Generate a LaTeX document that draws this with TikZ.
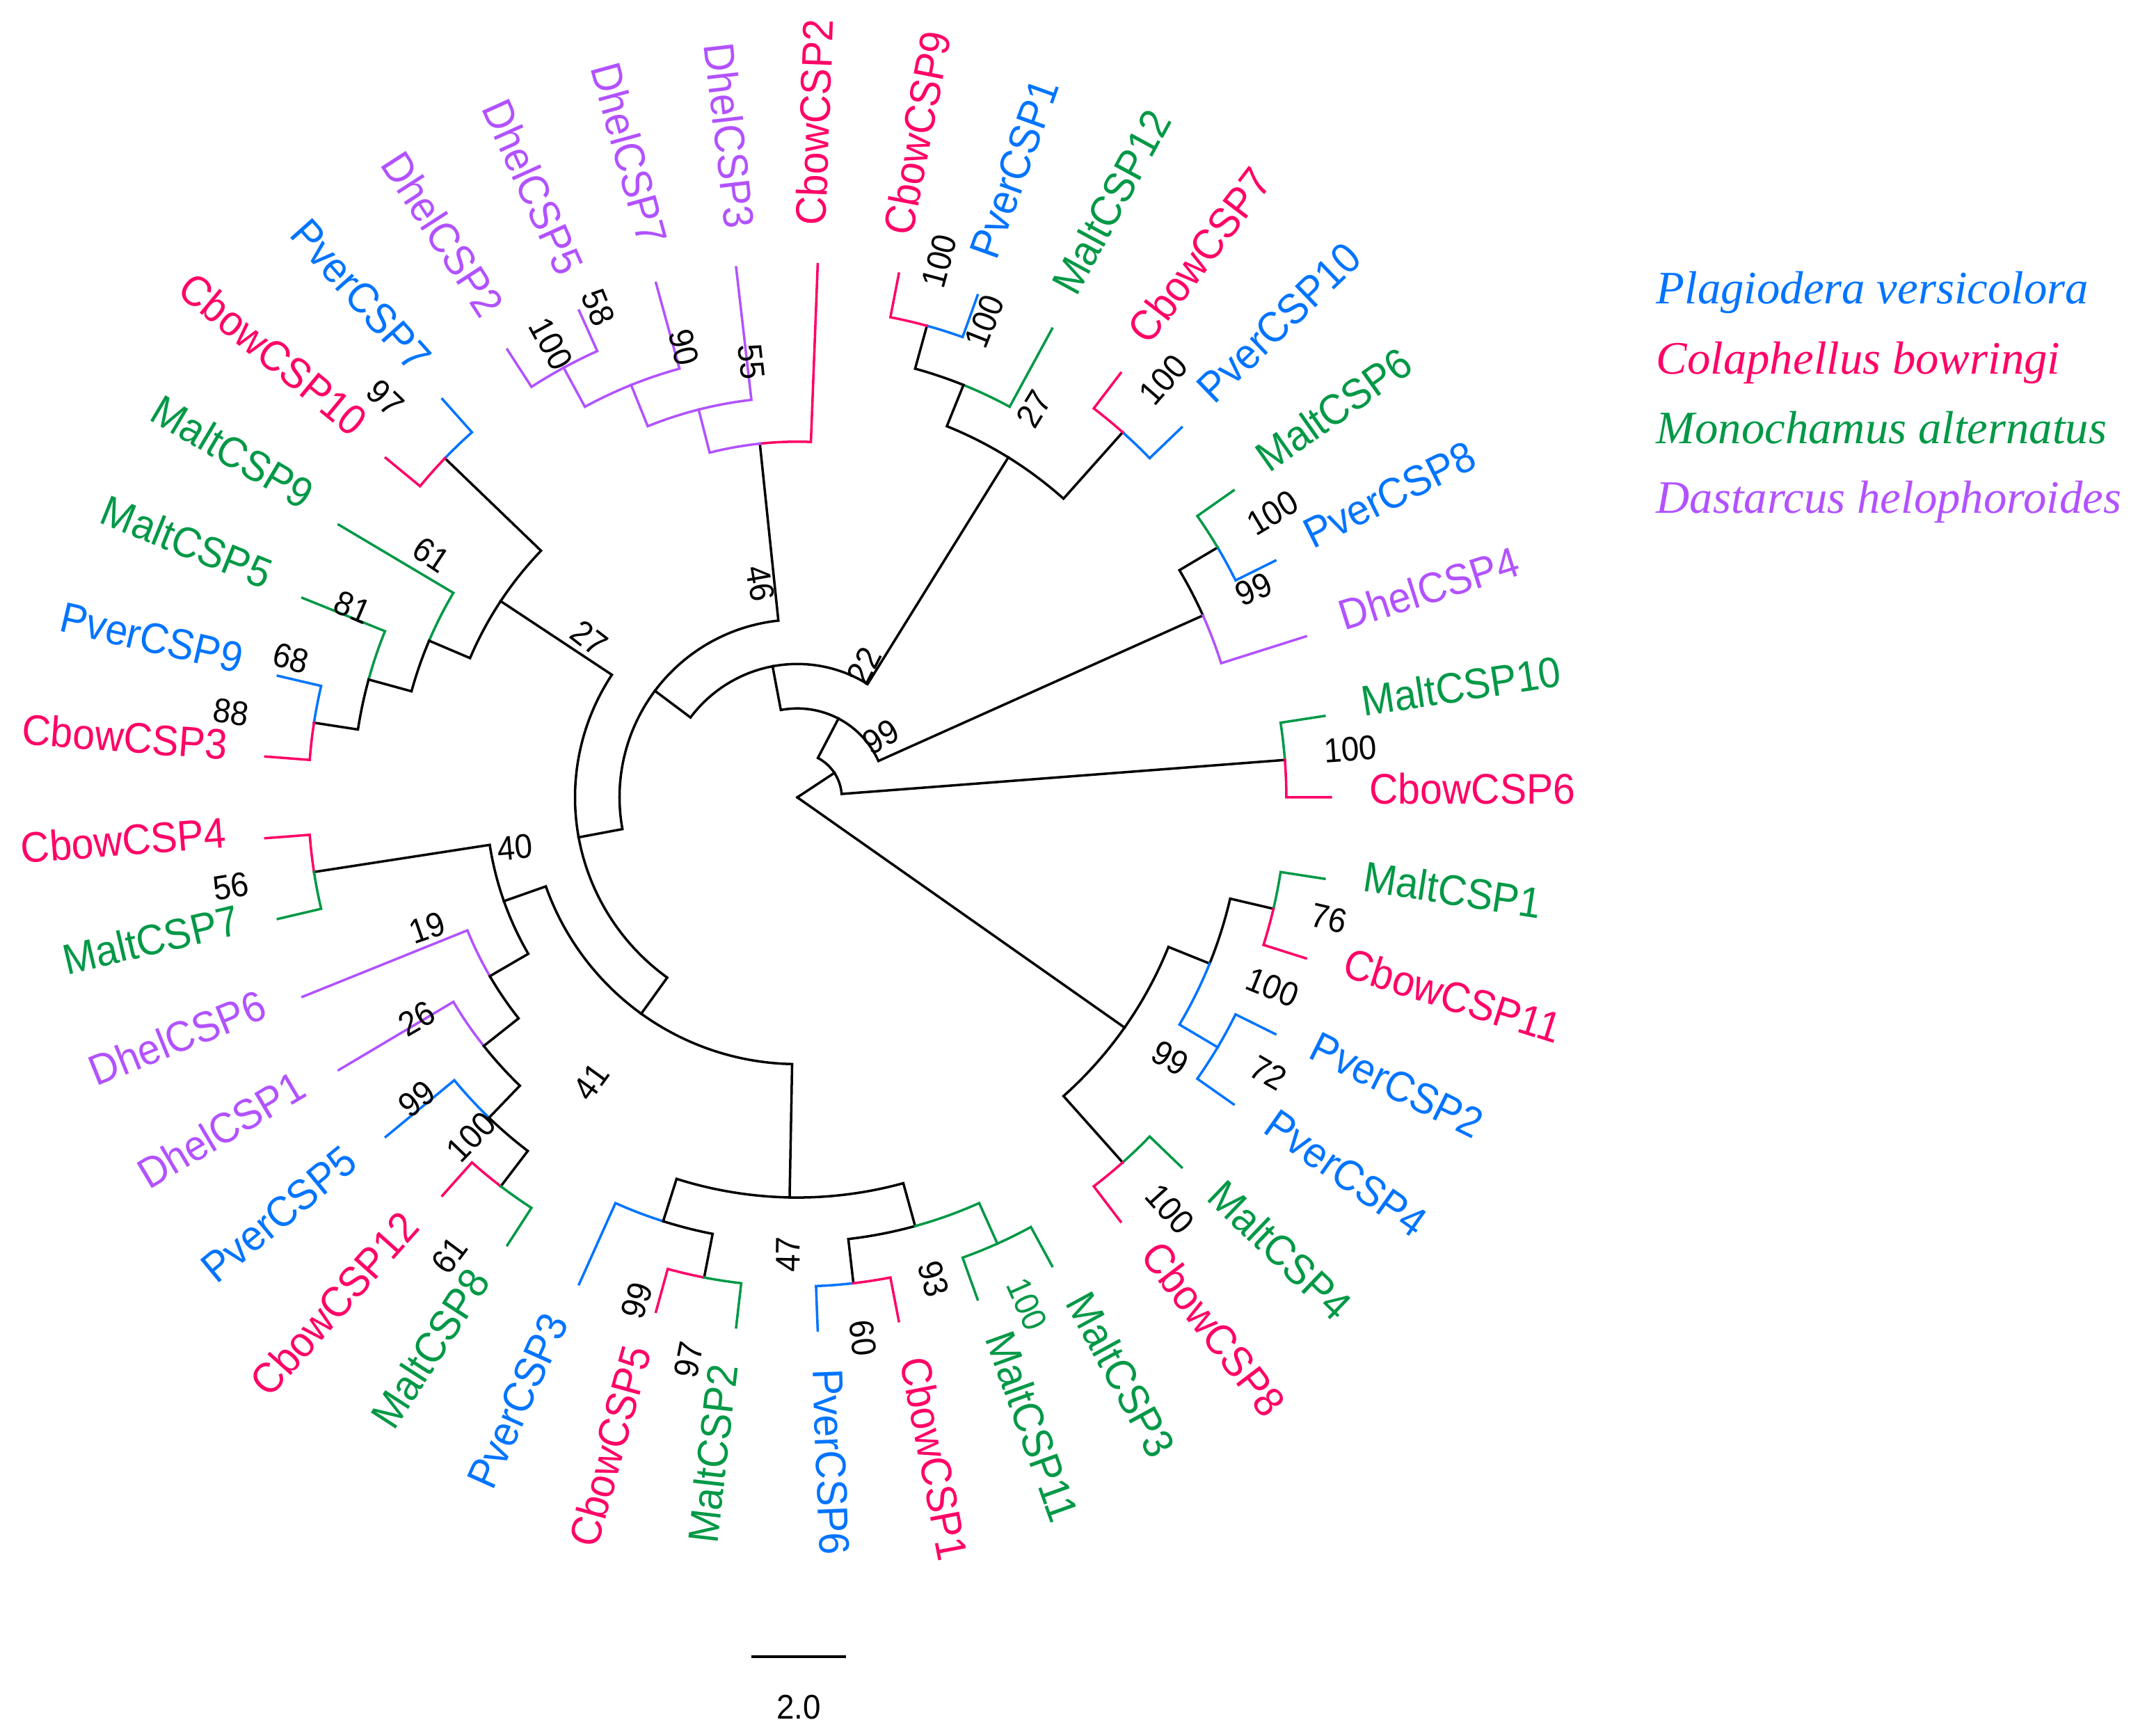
\documentclass[tikz,border=0pt]{standalone}
\usepackage{fontspec}
\setmainfont{Liberation Sans}
\newfontfamily\leaffont[FakeStretch=0.93]{Liberation Sans}
\newfontfamily\bootfont[FakeStretch=0.93]{Liberation Sans}
\newfontfamily\legfont{Liberation Serif}
\usetikzlibrary{calc}
\definecolor{pver}{RGB}{0,116,255}
\definecolor{cbow}{RGB}{255,0,102}
\definecolor{malt}{RGB}{0,152,70}
\definecolor{dhel}{RGB}{178,82,255}
\tikzset{
  branch/.style={line width=1pt,line cap=rect},
  leaf/.style={font=\leaffont\fontsize{17.5}{20}\selectfont,inner sep=0pt},
  boot/.style={font=\bootfont\fontsize{14}{16}\selectfont,inner sep=0pt},
  legend/.style={font=\legfont\itshape\fontsize{19}{22}\selectfont,anchor=base west,inner sep=0pt}
}
\def\rr{0.639}

\begin{document}
\begin{tikzpicture}
                \useasboundingbox (-11.46,-13.49) rectangle (19.40,11.46);
                \coordinate (root) at (0,0);
                \foreach \nd/\ang/\lev in {nA/324.88/9,nU/338.05/10,nW/346.83/11,nX/329.27/11,nV/311.71/11,
                    nB/33.40/1,nBx/4.39/11,nBy/62.42/2,nDd/24.15/10,nDm/30.73/11,nC/100.68/3,nT/58.17/9,
                    nZ/48.29/11,nY/68.05/10,nYp/74.63/11,nD/143.20/4,nDh/96.04/8,nDh3/104.27/9,nDh7/111.95/10,
                    nDh5/118.54/11,nE/190.36/5,n27/146.52/8,n97/136.10/11,n61/156.95/9,n81/164.63/10,
                    n88/171.22/11,nF/234.19/6,nG/199.48/7,n56/188.78/11,nI/210.18/8,nJ/218.41/9,nK/226.10/10,
                    nL/232.68/11,nH/268.90/9,nM/252.44/10,nQ/259.02/11,nP/285.37/10,nR/276.59/11,nS/294.15/11}{
                    \coordinate (\nd) at (\ang:\lev*\rr);
                }
                \foreach \i/\nm/\col in {0/CbowCSP6/cbow,1/MaltCSP10/malt,2/DhelCSP4/dhel,3/PverCSP8/pver,
                    4/MaltCSP6/malt,5/PverCSP10/pver,6/CbowCSP7/cbow,7/MaltCSP12/malt,8/PverCSP1/pver,
                    9/CbowCSP9/cbow,10/CbowCSP2/cbow,31/PverCSP6/pver,32/CbowCSP1/cbow,33/MaltCSP11/malt,
                    34/MaltCSP3/malt,35/CbowCSP8/cbow,36/MaltCSP4/malt,37/PverCSP4/pver,38/PverCSP2/pver,
                    39/CbowCSP11/cbow,40/MaltCSP1/malt}{
                    \pgfmathsetmacro\ang{\i*360/41}
                    \coordinate (t\i) at (\ang:12*\rr);
                    \node[leaf,text=\col,anchor=mid west,rotate=\ang] (l\i) at (\ang:12*\rr+0.55) {\nm};
                }
                \foreach \i/\nm/\col in {11/DhelCSP3/dhel,12/DhelCSP7/dhel,13/DhelCSP5/dhel,14/DhelCSP2/dhel,
                    15/PverCSP7/pver,16/CbowCSP10/cbow,17/MaltCSP9/malt,18/MaltCSP5/malt,19/PverCSP9/pver,
                    20/CbowCSP3/cbow,21/CbowCSP4/cbow,22/MaltCSP7/malt,23/DhelCSP6/dhel,24/DhelCSP1/dhel,
                    25/PverCSP5/pver,26/CbowCSP12/cbow,27/MaltCSP8/malt,28/PverCSP3/pver,29/CbowCSP5/cbow,
                    30/MaltCSP2/malt}{
                    \pgfmathsetmacro\ang{\i*360/41}
                    \pgfmathsetmacro\rotang{\ang-180}
                    \coordinate (t\i) at (\ang:12*\rr);
                    \node[leaf,text=\col,anchor=mid east,rotate=\rotang] (l\i) at (\ang:12*\rr+0.55) {\nm};
                }

                \draw[branch] (root) -- (nA);
                \draw[branch] (root) -- (nB);
                \foreach \pa/\ch/\col in {nA/nU/black,nA/nV/black,nU/nW/black,nU/nX/pver,nW/t40/malt,nW/t39/cbow,
                    nX/t38/pver,nX/t37/pver,nV/t36/malt,nV/t35/cbow,nB/nBx/black,nB/nBy/black,nBx/t1/malt,
                    nBx/t0/cbow,nBy/nDd/black,nBy/nC/black,nDd/nDm/black,nDd/t2/dhel,nDm/t3/pver,nDm/t4/malt,
                    nC/nT/black,nC/nD/black,nT/nZ/black,nT/nY/black,nZ/t5/pver,nZ/t6/cbow,nY/t7/malt,
                    nY/nYp/black,nYp/t8/pver,nYp/t9/cbow,nD/nDh/black,nD/nE/black,nDh/t10/cbow,nDh/nDh3/dhel,
                    nDh3/t11/dhel,nDh3/nDh7/dhel,nDh7/t12/dhel,nDh7/nDh5/dhel,nDh5/t13/dhel,nDh5/t14/dhel,
                    nE/n27/black,nE/nF/black,n27/n97/black,n27/n61/black,n97/t15/pver,n97/t16/cbow,
                    n61/t17/malt,n61/n81/black,n81/t18/malt,n81/n88/black,n88/t19/pver,n88/t20/cbow,
                    nF/nG/black,nF/nH/black,nG/n56/black,nG/nI/black,n56/t21/cbow,n56/t22/malt,nI/t23/dhel,
                    nI/nJ/black,nJ/t24/dhel,nJ/nK/black,nK/t25/pver,nK/nL/black,nL/t26/cbow,nL/t27/malt,
                    nH/nM/black,nH/nP/black,nM/t28/pver,nM/nQ/black,nQ/t29/cbow,nQ/t30/malt,nP/nR/black,
                    nP/nS/malt,nR/t31/pver,nR/t32/cbow,nS/t33/malt,nS/t34/malt}{
                    \draw[branch,\col] let \p1=(\pa), \p2=(\ch),
                        \n1={atan2(\y1,\x1)}, \n2={atan2(\y2,\x2)},
                        \n3={veclen(\x1,\y1)}, \n4={mod((\n2)-(\n1)+540,360)-180}
                        in (\pa) arc[start angle=\n1, delta angle=\n4, radius=\n3] -- (\ch);
                }

                \foreach \bx/\by/\r/\v [count=\k] in {-0.53/3.07/-80/46,-2.99/2.29/-37.5/27,-5.92/5.74/-44/97,
                    -5.26/3.49/-33.6/61,-6.39/2.73/-23/81,-7.28/2.00/-15/68,-8.14/1.22/-8.5/88,
                    -3.54/6.52/-61.5/100,-2.86/7.04/-68/58,-1.63/6.47/-76/90,-0.66/6.26/-84/55,
                    2.04/7.71/75/100,2.69/6.84/68.5/100,3.40/5.58/58.6/27,5.26/6.00/48.8/100,
                    6.83/4.09/31/100,6.56/2.99/24.5/99,7.95/0.69/4/100,0.96/1.89/63/22,1.20/0.87/30/99,
                    7.64/-1.74/-13/76,6.83/-2.73/-22/100,5.36/-3.75/-30/99,6.77/-3.96/-30/72,
                    5.36/-5.92/-48/100,1.96/-6.92/-74/93,0.94/-7.77/-83/60,-0.13/-6.57/89/47,
                    -1.56/-8.08/79/97,-2.31/-7.23/72/99,-5.00/-6.58/53/61,-4.69/-4.88/46/100,
                    -5.47/-4.33/38/99,-5.47/-3.18/30/26,-5.32/-1.87/19/19,-4.06/-0.72/5/40,
                    -8.14/-1.28/9/56,-2.96/-4.09/54/41}{
                    \node[boot,rotate=\r] (b\k) at (\bx,\by) {\v};
                }
                \node[boot,text=malt,rotate=-66] (bS) at (3.30,-7.28) {100};

                \node[legend,text=pver] (g1) at (12.34,7.09) {Plagiodera versicolora};
                \node[legend,text=cbow] (g2) at (12.34,6.08) {Colaphellus bowringi};
                \node[legend,text=malt] (g3) at (12.34,5.08) {Monochamus alternatus};
                \node[legend,text=dhel] (g4) at (12.34,4.08) {Dastarcus helophoroides};

                \coordinate (s0) at (-0.64,-12.35);
                \coordinate (s1) at (0.68,-12.35);
                \draw[branch] (s0) -- (s1);
                \node[boot] (sl) at (0.02,-13.08) {2.0};
\end{tikzpicture}
\end{document}
